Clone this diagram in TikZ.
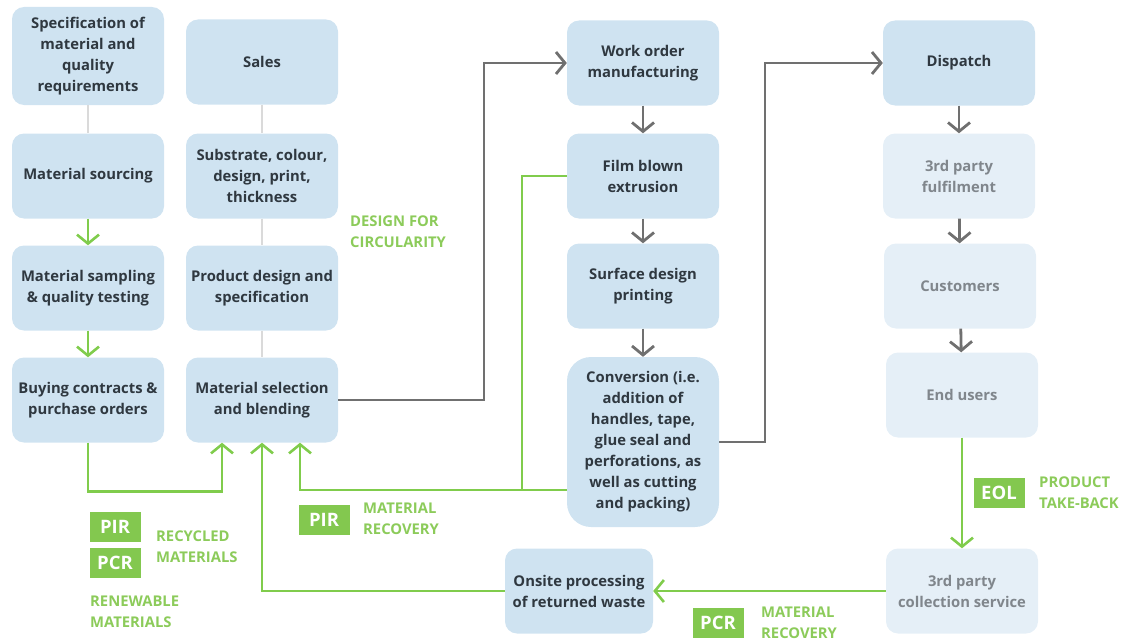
\documentclass[tikz,border=0pt]{standalone}
\usepackage{fontspec}
\setmainfont{Open Sans}
\usetikzlibrary{arrows.meta}
\definecolor{boxblue}{RGB}{207,227,241}
\definecolor{boxlight}{RGB}{229,239,247}
\definecolor{textdark}{RGB}{47,56,64}
\definecolor{textgray}{RGB}{128,134,140}
\definecolor{lgreen}{RGB}{128,204,76}
\definecolor{tgreen}{RGB}{140,203,90}
\definecolor{tagfill}{RGB}{131,200,79}
\definecolor{arrgray}{RGB}{112,112,112}
\definecolor{connlight}{RGB}{218,218,218}
\begin{document}
\begin{tikzpicture}[x=1pt,y=-1pt,
  box/.style={rounded corners=12pt, fill=boxblue, text=textdark,
    font=\bfseries\fontsize{14.8}{21}\selectfont, align=center,
    minimum width=152pt, minimum height=85pt, inner sep=0pt},
  lbox/.style={box, fill=boxlight, text=textgray},
  tag/.style={fill=tagfill, text=white, font=\bfseries\fontsize{18.5}{20}\selectfont,
    minimum width=51pt, minimum height=30pt, inner sep=0pt},
  glabel/.style={text=tgreen, font=\bfseries\fontsize{14.8}{21}\selectfont,
    align=left, anchor=west, inner sep=0pt},
  lconn/.style={draw=connlight, line width=2.5pt},
  garrow/.style={draw=lgreen, line width=2.6pt,
    -{Straight Barb[length=9pt,width=22pt,line width=2.6pt]}},
  gline/.style={draw=lgreen, line width=2.6pt},
  grarrow/.style={draw=arrgray, line width=2.8pt,
    -{Straight Barb[length=9pt,width=22pt,line width=2.8pt]}}
]
\useasboundingbox (0,0) rectangle (1130,642);

% column 1
\node[box, minimum height=98pt] (spec) at (88,56) {Specification of\\material and\\quality\\requirements};
\node[box] (sourc) at (88,176) {Material sourcing};
\node[box] (sampl) at (88,288) {Material sampling\\\& quality testing};
\node[box] (buy) at (88,400) {Buying contracts \&\\purchase orders};
% column 2
\node[box] (sales) at (262,62) {Sales};
\node[box] (subst) at (262,176) {Substrate, colour,\\design, print,\\thickness};
\node[box] (prod) at (262,288) {Product design and\\specification};
\node[box] (sel) at (262,400) {Material selection\\and blending};
% column 3
\node[box] (work) at (643,63) {Work order\\manufacturing};
\node[box] (film) at (643,176) {Film blown\\extrusion};
\node[box] (surf) at (643,286) {Surface design\\printing};
\node[box, minimum height=170pt, rounded corners=24pt] (conv) at (643,442) {Conversion (i.e.\\addition of\\handles, tape,\\glue seal and\\perforations, as\\well as cutting\\and packing)};
% column 4
\node[box] (disp) at (959,63) {Dispatch};
\node[lbox] (ful) at (959,176) {3rd party\\fulfilment};
\node[lbox] (cust) at (960,286) {Customers};
\node[lbox] (endu) at (962,395) {End users};
\node[lbox] (coll) at (962,591) {3rd party\\collection service};
\node[box, minimum width=148pt] (onsite) at (579,591) {Onsite processing\\of returned waste};

% light connectors
\draw[lconn] (spec) -- (sourc);
\draw[lconn] (sales) -- (subst);
\draw[lconn] (subst) -- (prod);
\draw[lconn] (prod) -- (sel);

% green arrows column 1
\draw[garrow] (sourc) -- (sampl);
\draw[garrow] (sampl) -- (buy);
\draw[garrow] (buy.south) -- ++(0,49) -| ([xshift=-40pt]sel.south);
\draw[garrow] (onsite.west) -| (sel.south);
\coordinate (j) at (522,490);
\draw[garrow] (conv.west |- j) -- (j) -| ([xshift=38pt]sel.south);
\draw[gline] (film.west) -| (j);

% gray flows
\coordinate (g1) at (484,0);
\coordinate (g2) at (765,0);
\draw[grarrow] (sel.east) -- (g1 |- sel.east) -- (g1 |- work.west) -- (work.west);
\draw[grarrow] (conv.east) -- (g2 |- conv.east) -- (g2 |- disp.west) -- (disp.west);
\draw[grarrow] (work) -- (film);
\draw[grarrow] (film) -- (surf);
\draw[grarrow] (surf) -- (conv);
\draw[grarrow] (disp) -- (ful);
\draw[grarrow] (ful) -- (cust);
\draw[grarrow] (cust) -- (endu);

% end of life loop
\draw[garrow] (endu) -- (coll);
\draw[garrow] (coll.west) -- (onsite.east);

% labels
\node[glabel] (dfc) at (350,232) {DESIGN FOR\\CIRCULARITY};
\node[tag] (pir1) at (115,527) {PIR};
\node[tag] (pcr1) at (115,563) {PCR};
\node[glabel] (recyc) at (156,547) {RECYCLED\\MATERIALS};
\node[glabel] (renew) at (90,612) {RENEWABLE\\MATERIALS};
\node[tag] (pir2) at (324,520) {PIR};
\node[glabel] (mrec1) at (363,519) {MATERIAL\\RECOVERY};
\node[tag] (eol) at (999,493) {EOL};
\node[glabel] (take) at (1039,493) {PRODUCT\\TAKE-BACK};
\node[tag] (pcr2) at (718,623) {PCR};
\node[glabel] (mrec2) at (761,623) {MATERIAL\\RECOVERY};
\end{tikzpicture}
\end{document}
